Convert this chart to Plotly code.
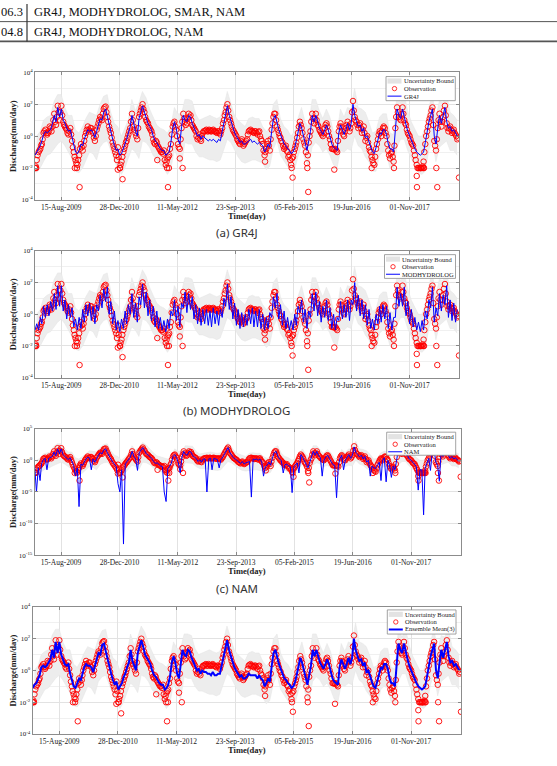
import numpy as np
import pandas as pd
import plotly.graph_objects as go

W, H = 557, 766

# ---------------- data (log10 of discharge, mm/day) ----------------
years = list(range(2009, 2019))
half_month_dates = [pd.Timestamp(y, m, d) for y in years for m in range(1, 13) for d in (1, 16)]
mid_month_dates = [pd.Timestamp(y, m, d) for y in years for m in range(1, 13) for d in (8, 23)]
month_dates = [pd.Timestamp(y, m, 15) for y in years for m in range(1, 13)]

# observations on the 1st and 16th of each month
obs_log10 = [
    -2.0,-1.5,-1.0,-0.8,-0.5,0.2,0.4,0.1,0.3,0.5,0.6,1.4,0.7,1.9,1.0,1.9,0.9,0.6,0.4,0.1,0.5,-0.3,-1.0,-1.5,
    -1.8,-1.2,-0.5,-0.9,-0.3,0.2,0.6,0.3,0.5,0.2,-0.3,0.4,0.8,1.2,1.0,1.7,1.85,1.2,0.6,0.2,-0.4,-0.8,-1.2,-0.7,
    -2.0,-1.6,-1.0,-0.6,-0.3,0.1,0.5,1.4,0.6,0.2,-0.2,1.2,1.6,2.0,1.5,1.0,0.8,0.5,0.3,-0.2,-0.5,-0.4,-0.7,-0.9,
    -1.0,-0.9,-1.8,-1.4,-1.2,-0.5,0.6,0.9,0.4,-0.5,-0.8,0.5,1.4,0.9,0.8,1.4,1.3,0.7,0.5,0.3,-0.2,0.1,-0.3,0.2,
    0.3,0.4,0.3,0.35,0.3,0.4,0.3,0.2,0.3,0.1,0.5,1.0,1.5,2.0,1.2,0.8,0.4,0.2,0.0,-0.3,-0.5,-0.2,-0.6,-0.4,
    -0.2,0.3,0.4,0.3,0.2,0.3,0.1,0.3,-0.2,-0.5,-1.2,-0.8,-0.3,-0.9,0.4,1.2,1.4,0.6,0.2,-0.1,-0.4,-0.8,-0.6,-1.0,
    -1.2,-1.8,-1.3,-0.8,-0.4,0.2,0.9,0.5,-0.2,-0.6,-1.7,-0.4,0.3,1.4,0.8,1.4,0.7,0.4,0.2,0.0,0.5,0.8,0.3,-0.2,
    -0.8,-0.8,-0.8,-1.0,0.3,0.8,0.3,0.0,0.5,0.9,0.3,0.8,2.2,1.2,0.9,0.5,0.8,0.2,0.6,-0.3,0.0,-0.7,-1.0,-1.5,
    -1.8,-0.8,-0.2,0.3,0.0,0.5,0.5,0.0,-0.9,-1.4,-1.0,-1.6,0.5,1.8,1.2,1.0,1.8,1.0,0.7,0.2,0.0,-0.4,-0.6,-1.2,
    -1.8,-2.0,-2.0,-2.0,-1.6,-0.5,0.3,0.9,1.3,1.8,-0.3,-0.9,0.5,1.4,0.6,1.2,1.9,0.8,0.3,0.6,0.2,0.4,0.1,-0.2,
]
# observations on the 8th and 23rd of each month
obs_mid_log10 = [
    -1.9,-1.2,-0.9,-0.6,-0.2,0.3,0.2,0.2,0.6,0.3,1.0,0.9,1.2,1.5,1.5,1.3,0.7,0.5,0.2,0.3,0.1,-0.7,-1.3,-1.7,
    -1.5,-0.8,-0.7,-0.6,0.0,0.4,0.4,0.5,0.3,-0.1,0.0,0.6,1.0,1.1,1.4,1.8,1.5,0.9,0.4,-0.1,-0.6,-1.0,-1.5,-1.3,
    -1.8,-1.3,-0.8,-0.4,-0.1,0.3,0.9,1.0,0.4,0.0,0.5,1.4,1.8,1.7,1.2,0.9,0.6,0.4,0.1,-0.4,-0.3,-0.6,-0.8,-1.0,
    -1.1,-1.5,-1.6,-1.3,-0.8,0.1,0.8,0.6,0.0,-0.7,-0.2,0.9,1.1,0.7,1.1,1.2,1.0,0.6,0.4,0.0,-0.1,-0.2,0.0,0.3,
    0.35,0.3,0.4,0.3,0.35,0.3,0.25,0.3,0.2,0.3,0.8,1.3,1.8,1.6,1.0,0.6,0.3,0.1,-0.2,-0.4,-0.3,-0.4,-0.5,-0.3,
    0.1,0.35,0.3,0.25,0.3,0.2,0.25,0.0,-0.3,-0.9,-1.0,-0.5,-0.6,-0.2,0.8,1.4,1.0,0.4,0.0,-0.3,-0.6,-0.7,-0.9,-1.3,
    -1.5,-1.4,-1.0,-0.6,-0.1,0.6,0.7,0.2,-0.4,-1.0,-1.2,0.0,0.9,1.1,1.1,1.0,0.6,0.3,0.1,0.2,0.7,0.6,0.0,-0.5,
    -0.8,-0.85,-0.9,-0.3,0.6,0.6,0.1,0.3,0.7,0.6,0.5,1.5,1.6,1.0,0.7,0.7,0.5,0.4,0.2,-0.1,-0.4,-0.9,-1.3,-1.7,
    -1.3,-0.5,0.1,0.2,0.3,0.6,0.2,-0.5,-1.2,-1.1,-1.3,-0.6,1.2,1.5,1.1,1.4,1.4,0.8,0.4,0.1,-0.2,-0.5,-0.9,-1.5,
    -2.0,-2.0,-2.0,-1.9,-1.0,0.0,0.6,1.1,1.6,0.7,-0.6,-0.2,1.0,0.9,0.9,1.6,1.3,0.5,0.5,0.4,0.3,0.2,0.0,-0.1,
]

obs_extra_dates = ["2009-01-04","2009-01-12","2009-12-10","2009-12-28","2010-01-20","2010-12-15",
                   "2011-01-04","2011-01-25","2011-11-20","2012-02-12","2012-02-20","2012-02-28",
                   "2012-06-01","2012-06-25","2014-06-05","2015-01-20","2015-01-28","2015-06-04",
                   "2015-06-12","2016-01-22","2016-12-09","2017-06-19","2018-01-01","2018-01-03",
                   "2018-02-04","2018-02-27","2018-03-05","2018-06-19","2018-06-27","2018-12-31"]
obs_extra_log10 = [-2.0,-2.0,-2.0,-2.0,-3.2,-2.1,
                   -2.0,-2.7,-1.5,-2.0,-3.2,-2.0,
                   -1.4,-2.0,-1.6,-2.0,-2.6,-2.0,
                   -3.5,-2.1,-2.0,-2.0,-2.5,-3.2,
                   -2.0,-2.0,-2.0,-2.0,-3.2,-2.6]

gr4j_log10 = [
    -1.2,-1.0,-0.8,-0.6,-0.3,0.1,0.3,0.2,0.3,0.4,0.8,1.3,0.9,1.8,1.2,1.7,1.0,0.8,0.5,0.3,0.4,-0.1,-0.6,-1.0,
    -1.1,-0.9,-0.5,-0.6,-0.2,0.1,0.4,0.3,0.4,0.2,-0.1,0.3,0.7,1.1,1.0,1.5,1.7,1.2,0.7,0.3,-0.2,-0.6,-0.9,-0.8,
    -1.2,-1.1,-0.8,-0.5,-0.2,0.2,0.6,1.3,0.7,0.3,0.0,1.1,1.5,1.9,1.5,1.1,0.8,0.6,0.4,0.0,-0.3,-0.4,-0.6,-0.8,
    -0.9,-0.9,-1.2,-1.1,-1.0,-0.4,0.5,0.9,0.5,-0.2,-0.5,0.6,1.3,1.0,0.9,1.3,1.2,0.8,0.5,0.3,0.0,0.1,-0.2,0.0,
    -0.1,-0.2,-0.3,-0.2,-0.3,-0.2,-0.3,-0.4,-0.2,-0.3,0.3,0.9,1.4,1.9,1.3,0.9,0.5,0.2,0.0,-0.2,-0.4,-0.3,-0.5,-0.5,
    -0.4,-0.3,-0.2,-0.4,-0.3,-0.4,-0.5,-0.4,-0.5,-0.6,-1.0,-0.8,-0.5,-0.7,0.3,1.1,1.3,0.8,0.4,0.1,-0.2,-0.5,-0.6,-0.8,
    -0.9,-1.1,-1.0,-0.7,-0.3,0.2,0.8,0.5,0.0,-0.4,-0.9,-0.3,0.3,1.3,0.9,1.3,0.8,0.5,0.3,0.1,0.4,0.7,0.4,0.0,
    -0.5,-0.7,-0.8,-0.9,0.2,0.7,0.4,0.1,0.4,0.8,0.4,0.8,2.0,1.3,0.9,0.6,0.7,0.3,0.5,-0.1,0.0,-0.4,-0.7,-1.0,
    -1.1,-0.7,-0.3,0.2,0.1,0.4,0.4,0.1,-0.5,-0.8,-0.8,-1.0,0.4,1.7,1.3,1.1,1.7,1.1,0.7,0.3,0.0,-0.3,-0.5,-0.8,
    -1.0,-1.1,-1.2,-1.1,-1.0,-0.4,0.3,0.9,1.3,1.7,0.0,-0.5,0.5,1.3,0.8,1.2,1.8,0.9,0.5,0.6,0.3,0.4,0.2,0.0,
]

modhydrolog_log10 = [
    -1.0,-0.6,-1.0,-0.2,-0.6,0.5,-0.2,0.6,-0.1,0.8,0.2,1.3,0.3,1.8,0.5,1.8,0.2,0.9,-0.3,0.6,-0.2,0.4,-0.8,-0.3,
    -1.0,-0.2,-0.9,0.3,-0.5,0.6,-0.1,0.7,-0.4,0.5,-0.6,0.6,0.2,1.2,0.4,1.6,0.8,1.7,0.0,0.8,-0.6,0.2,-1.0,-0.4,
    -1.1,-0.3,-0.9,0.2,-0.6,0.6,0.0,1.3,-0.2,0.7,-0.5,1.1,0.6,1.9,0.4,1.4,-0.1,0.9,-0.4,0.5,-0.8,0.2,-0.9,-0.2,
    -1.0,-0.4,-1.1,-0.3,-0.9,0.2,-0.1,0.9,-0.4,0.5,-0.8,0.7,0.4,1.4,0.1,1.3,0.3,1.1,-0.3,0.6,-0.6,0.4,-0.7,0.3,
    -0.6,0.3,-0.7,0.2,-0.8,0.4,-0.6,0.2,-0.7,0.3,-0.2,1.0,0.5,1.9,0.3,1.1,-0.3,0.7,-0.7,0.3,-0.9,0.1,-0.8,0.0,
    -0.7,0.3,-0.6,0.4,-0.8,0.2,-0.8,0.3,-0.9,0.0,-1.0,-0.2,-0.9,0.1,-0.2,1.1,0.4,1.3,-0.3,0.6,-0.7,0.2,-0.9,-0.2,
    -1.0,-0.4,-1.0,0.0,-0.7,0.5,0.1,0.9,-0.5,0.3,-0.9,0.2,-0.2,1.3,0.2,1.4,-0.1,0.8,-0.5,0.5,-0.2,0.9,-0.4,0.4,
    -0.9,0.0,-1.0,-0.2,-0.4,0.8,-0.3,0.6,-0.2,0.9,-0.4,0.9,0.6,2.0,0.2,1.2,-0.1,0.9,-0.3,0.6,-0.7,0.3,-0.9,-0.3,
    -1.0,0.0,-0.6,0.5,-0.5,0.6,-0.3,0.5,-0.9,0.1,-1.0,-0.2,-0.2,1.7,0.5,1.3,0.5,1.7,-0.1,0.8,-0.6,0.3,-0.8,-0.2,
    -1.0,-0.5,-1.1,-0.4,-1.0,0.2,-0.3,0.9,0.4,1.7,-0.5,0.4,-0.1,1.3,0.2,1.2,0.6,1.8,-0.2,0.9,-0.4,0.7,-0.5,0.3,
]

nam_log10 = [
    -1.0,-5.0,-1.2,-3.2,-0.5,0.1,0.3,-1.5,0.3,0.4,0.6,1.3,0.7,1.8,1.0,1.8,0.9,0.6,0.4,0.1,0.4,-0.3,-0.8,-2.5,
    -1.2,-7.3,-0.6,-0.8,-0.3,0.2,0.5,0.3,-1.5,0.2,-0.3,0.4,0.8,1.2,1.0,1.6,1.8,1.2,0.6,0.2,-0.3,-0.7,-1.0,-3.7,
    -5.0,-1.5,-13.2,-0.6,-0.3,0.1,0.5,1.4,0.6,0.2,-1.6,1.2,1.6,2.0,1.5,1.0,0.8,0.5,0.3,-0.2,-0.5,-0.4,-0.7,-0.9,
    -1.0,-5.0,-6.5,-1.3,-1.0,-0.5,0.6,0.9,0.4,-0.4,-2.0,0.5,1.4,0.9,0.8,1.4,1.3,0.7,0.5,0.3,-0.2,0.1,-0.3,0.2,
    0.2,-5.0,0.2,0.3,-1.5,0.3,0.2,0.1,-1.2,0.1,0.5,1.0,1.5,2.0,1.2,0.8,0.4,0.2,0.0,-0.3,-0.5,-0.2,-0.6,-0.4,
    -0.3,-0.2,-5.8,0.2,0.1,0.2,0.0,0.2,-0.3,-2.5,-1.0,-0.8,-0.3,-0.8,0.4,1.2,1.4,0.6,0.2,-0.1,-2.0,-0.7,-0.6,-0.9,
    -1.0,-5.1,-1.0,-0.7,-0.4,-2.0,0.9,0.5,-0.2,-0.6,-1.2,-0.4,0.3,1.4,0.8,1.4,0.7,0.4,-2.5,0.0,0.5,0.8,0.3,-0.2,
    -0.7,-0.8,-5.9,-0.9,0.3,0.8,-1.5,0.0,0.5,0.9,0.3,0.8,2.1,1.2,0.9,0.5,0.8,0.2,0.6,-0.3,0.0,-2.5,-0.9,-1.2,
    -1.3,-0.8,-0.3,-3.2,0.0,0.4,-3.4,0.0,-0.8,-2.7,-0.9,-1.5,0.5,1.8,1.2,1.0,1.8,1.0,0.7,0.2,0.0,-0.4,-0.6,-1.0,
    -4.7,-1.5,-1.5,-8.6,-1.3,-0.5,0.3,-1.6,1.3,1.8,-0.3,-0.8,-3.3,1.4,0.6,1.2,1.9,0.8,0.3,0.6,0.2,0.4,0.1,-0.2,
]

ensemble_log10 = [
    -1.1,-0.9,-0.8,-0.5,-0.3,0.2,0.3,0.2,0.3,0.5,0.7,1.3,0.8,1.8,1.1,1.8,1.0,0.7,0.4,0.3,0.4,-0.2,-0.6,-1.0,
    -1.1,-0.8,-0.5,-0.6,-0.2,0.2,0.4,0.3,0.3,0.2,-0.1,0.4,0.7,1.1,1.0,1.6,1.7,1.2,0.7,0.3,-0.2,-0.6,-0.9,-0.7,
    -1.2,-1.0,-0.8,-0.4,-0.2,0.2,0.5,1.3,0.6,0.3,0.0,1.1,1.5,1.9,1.5,1.0,0.8,0.6,0.4,0.0,-0.3,-0.4,-0.6,-0.8,
    -0.9,-0.9,-1.2,-1.1,-0.9,-0.4,0.5,0.9,0.5,-0.2,-0.5,0.6,1.3,1.0,0.9,1.3,1.2,0.8,0.5,0.3,0.0,0.1,-0.2,0.0,
    -0.1,-0.1,-0.2,-0.2,-0.3,-0.1,-0.3,-0.3,-0.2,-0.2,0.3,0.9,1.4,1.9,1.3,0.9,0.5,0.2,0.0,-0.2,-0.4,-0.3,-0.5,-0.5,
    -0.4,-0.2,-0.3,-0.3,-0.3,-0.3,-0.5,-0.3,-0.5,-0.6,-1.0,-0.8,-0.5,-0.7,0.3,1.1,1.3,0.8,0.4,0.1,-0.2,-0.5,-0.6,-0.8,
    -0.9,-1.1,-1.0,-0.7,-0.3,0.3,0.8,0.5,0.0,-0.4,-0.9,-0.3,0.3,1.3,0.9,1.3,0.8,0.5,0.3,0.1,0.4,0.7,0.4,0.0,
    -0.5,-0.7,-0.8,-0.9,0.2,0.7,0.4,0.1,0.4,0.8,0.4,0.8,2.0,1.3,0.9,0.6,0.7,0.3,0.5,-0.1,0.0,-0.4,-0.7,-1.0,
    -1.1,-0.7,-0.3,0.2,0.1,0.4,0.4,0.1,-0.5,-0.8,-0.8,-1.0,0.4,1.7,1.3,1.1,1.7,1.1,0.7,0.3,0.0,-0.3,-0.5,-0.8,
    -1.0,-1.1,-1.2,-1.1,-1.0,-0.4,0.3,0.9,1.3,1.7,0.0,-0.5,0.5,1.3,0.8,1.2,1.8,0.9,0.5,0.6,0.3,0.4,0.2,0.0,
]

band_hi_log10 = [
    0.0,0.3,1.0,1.2,1.3,2.2,2.6,2.6,1.8,1.3,1.3,0.4,
    0.2,0.6,1.1,1.5,1.4,1.3,2.0,2.5,2.6,1.5,0.8,0.6,
    0.0,0.5,1.0,2.3,1.6,2.1,2.8,2.4,1.7,1.2,0.7,0.5,
    0.4,0.2,0.6,1.8,1.4,1.4,2.3,2.3,2.2,1.4,1.0,1.1,
    1.2,1.3,1.2,1.1,1.2,1.9,2.8,2.1,1.3,1.0,0.8,0.6,
    1.1,1.2,1.1,1.1,0.6,0.3,0.5,2.0,2.3,1.1,0.6,0.4,
    0.0,0.3,1.1,1.8,0.9,0.6,2.3,2.3,1.6,1.1,1.7,1.2,
    0.3,0.2,1.7,1.2,1.8,1.7,3.0,1.8,1.7,1.5,0.9,0.2,
    0.3,1.2,1.4,1.4,0.2,0.1,2.6,2.1,2.6,1.6,0.9,0.5,
    0.0,0.0,0.6,1.8,2.6,1.2,2.2,2.1,2.7,1.5,1.3,1.0,
]
band_lo_log10 = [
    -2.3,-2.0,-1.6,-1.2,-1.1,-0.8,-0.5,-0.3,-0.6,-1.0,-1.4,-2.2,
    -2.3,-2.0,-1.5,-1.0,-1.1,-1.5,-0.7,-0.4,-0.3,-0.9,-1.6,-2.1,
    -2.4,-2.0,-1.4,-0.8,-1.0,-1.4,-0.3,-0.4,-0.7,-1.2,-1.5,-1.8,
    -2.0,-2.4,-2.1,-0.8,-1.4,-1.8,-0.4,-0.5,-0.5,-1.0,-1.3,-1.3,
    -1.4,-1.5,-1.5,-1.6,-1.5,-0.9,-0.2,-0.4,-0.9,-1.3,-1.6,-1.7,
    -1.6,-1.5,-1.5,-1.6,-1.7,-2.1,-1.9,-0.8,-0.3,-1.2,-1.6,-1.9,
    -2.2,-2.1,-1.3,-0.6,-1.5,-1.9,-0.7,-0.4,-0.6,-1.0,-0.8,-1.2,
    -1.8,-2.0,-0.9,-1.0,-0.8,-0.9,0.0,-0.6,-0.8,-1.3,-1.6,-2.2,
    -2.2,-1.2,-1.0,-1.1,-2.0,-2.2,-0.7,-0.2,-0.2,-0.9,-1.4,-1.9,
    -2.3,-2.4,-2.2,-0.9,-0.2,-1.6,-0.7,-0.5,-0.3,-0.9,-0.9,-1.2,
]

x_tick_dates = ["2009-08-15", "2010-12-28", "2012-05-11", "2013-09-23",
                "2015-02-05", "2016-06-19", "2017-11-01"]
x_tick_text = ["15-Aug-2009", "28-Dec-2010", "11-May-2012", "23-Sep-2013",
               "05-Feb-2015", "19-Jun-2016", "01-Nov-2017"]

table_left = ["06.3", "04.8"]
table_right = ["GR4J, MODHYDROLOG, SMAR, NAM", "GR4J, MODHYDROLOG, NAM"]

# ---------------- layout helpers ----------------
def px(x):
    return x / W

def py(y):
    return 1 - y / H

SERIF = "Liberation Serif, Times New Roman, serif"

panels = [
    dict(model=gr4j_log10, label="GR4J", lw=1.0, box=(35, 69, 459, 198),
         yt=[-4, -2, 0, 2, 4], ym=[-3, -1, 1, 3], cap="(a) GR4J", cap_y=231,
         leg=(386, 73.3, 455.3, 97.7)),
    dict(model=modhydrolog_log10, label="MODHYDROLOG", lw=1.0, box=(35, 249.3, 459, 377.7),
         yt=[-4, -2, 0, 2, 4], ym=[-3, -1, 1, 3], cap="(b) MODHYDROLOG", cap_y=411,
         leg=(384.5, 253.3, 455.5, 277.3)),
    dict(model=nam_log10, label="NAM", lw=1.0, box=(34.7, 429, 460.7, 557.3),
         yt=[-15, -10, -5, 0, 5], ym=[], cap="(c) NAM", cap_y=591,
         leg=(386.7, 432.7, 455.7, 456)),
    dict(model=ensemble_log10, label="Ensemble Mean(3)", lw=2.0, box=(32.7, 609.3, 461, 737.7),
         yt=[-4, -2, 0, 2, 4], ym=[-3, -1, 1, 3], cap=None, cap_y=None,
         leg=(387.3, 612.3, 456, 636.7)),
]

fig = go.Figure()
shapes = []
annotations = []

hi_vals = np.power(10.0, band_hi_log10)
lo_vals = np.power(10.0, band_lo_log10)
obs_x = half_month_dates + mid_month_dates + [pd.Timestamp(d) for d in obs_extra_dates]
obs_y = list(np.power(10.0, obs_log10)) + list(np.power(10.0, obs_mid_log10)) + \
    list(np.power(10.0, obs_extra_log10))

layout_axes = {}
for i, p in enumerate(panels):
    n = "" if i == 0 else str(i + 1)
    xa, ya = "x" + n, "y" + n
    x0, y0, x1, y1 = p["box"]
    # uncertainty band
    fig.add_trace(go.Scatter(x=month_dates, y=lo_vals, mode="lines",
                             line=dict(color="#e4e4e4", width=0.5),
                             xaxis=xa, yaxis=ya, showlegend=False, hoverinfo="skip"))
    fig.add_trace(go.Scatter(x=month_dates, y=hi_vals, mode="lines", fill="tonexty",
                             fillcolor="#ededed",
                             line=dict(color="#e4e4e4", width=0.5),
                             xaxis=xa, yaxis=ya, showlegend=False, hoverinfo="skip"))
    # observations
    fig.add_trace(go.Scatter(x=obs_x, y=obs_y, mode="markers",
                             marker=dict(symbol="circle-open", color="#ff0000", size=5.5,
                                         line=dict(width=0.9, color="#ff0000")),
                             xaxis=xa, yaxis=ya, showlegend=False))
    # model
    fig.add_trace(go.Scatter(x=half_month_dates, y=np.power(10.0, p["model"]), mode="lines",
                             line=dict(color="#0000ff", width=p["lw"]),
                             xaxis=xa, yaxis=ya, showlegend=False))

    xkey = "xaxis" + n
    ykey = "yaxis" + n
    layout_axes[xkey] = dict(
        domain=[px(x0), px(x1)], anchor=ya, type="date",
        range=["2009-01-01", "2018-12-31"],
        tickmode="array", tickvals=x_tick_dates, ticktext=x_tick_text,
        tickfont=dict(family=SERIF, size=7.5, color="#222"),
        ticks="inside", ticklen=3, tickcolor="#888",
        showline=True, linecolor="#8c8c8c", linewidth=1, mirror="ticks",
        showgrid=True, gridcolor="#e2e2e2", gridwidth=1, zeroline=False,
    )
    layout_axes[ykey] = dict(
        domain=[py(y1), py(y0)], anchor=xa, type="log",
        range=[p["yt"][0], p["yt"][-1]],
        tickmode="array", tickvals=[10.0 ** v for v in p["yt"]],
        ticktext=["10<sup>%d</sup>" % v for v in p["yt"]],
        tickfont=dict(family=SERIF, size=7, color="#222"),
        ticks="inside", ticklen=3, tickcolor="#888",
        showline=True, linecolor="#8c8c8c", linewidth=1, mirror="ticks",
        showgrid=True, gridcolor="#e2e2e2", gridwidth=1, zeroline=False,
        minor=dict(tickmode="array", tickvals=[10.0 ** v for v in p["ym"]],
                   showgrid=True, gridcolor="#f0f0f0", ticks=""),
    )

    # axis titles
    annotations.append(dict(x=px(13), y=py((y0 + y1) / 2), xref="paper", yref="paper",
                            text="<b>Discharge(mm/day)</b>", textangle=-90, showarrow=False,
                            font=dict(family=SERIF, size=8.5, color="#222"),
                            xanchor="center", yanchor="middle"))
    annotations.append(dict(x=px(247), y=py(y1 + 16), xref="paper", yref="paper",
                            text="<b>Time(day)</b>", showarrow=False,
                            font=dict(family=SERIF, size=8.5, color="#222"),
                            xanchor="center", yanchor="middle"))
    if p["cap"]:
        annotations.append(dict(x=px(236.5), y=py(p["cap_y"]), xref="paper", yref="paper",
                                text=p["cap"], showarrow=False,
                                font=dict(family="Noto Sans", size=11.5, color="#333"),
                                xanchor="center", yanchor="middle"))

    # legend box (drawn)
    lx0, ly0, lx1, ly1 = p["leg"]
    shapes.append(dict(type="rect", xref="paper", yref="paper",
                       x0=px(lx0), x1=px(lx1), y0=py(ly0), y1=py(ly1),
                       line=dict(color="#8c8c8c", width=0.8), fillcolor="white", layer="above"))
    rows = [ly0 + 4.5, ly0 + 12.2, ly0 + 19.8]
    shapes.append(dict(type="rect", xref="paper", yref="paper",
                       x0=px(lx0 + 1.5), x1=px(lx0 + 15.5), y0=py(rows[0] + 2.6), y1=py(rows[0] - 2.6),
                       line=dict(width=0), fillcolor="#e3e3e3", layer="above"))
    shapes.append(dict(type="circle", xref="paper", yref="paper",
                       x0=px(lx0 + 6.3), x1=px(lx0 + 10.7), y0=py(rows[1] + 2.2), y1=py(rows[1] - 2.2),
                       line=dict(color="#ff0000", width=0.8), layer="above"))
    shapes.append(dict(type="line", xref="paper", yref="paper",
                       x0=px(lx0 + 1.5), x1=px(lx0 + 15.5), y0=py(rows[2]), y1=py(rows[2]),
                       line=dict(color="#0000ff", width=p["lw"]), layer="above"))
    for txt, ry in zip(["Uncertainty Bound", "Observation", p["label"]], rows):
        annotations.append(dict(x=px(lx0 + 16.5), y=py(ry), xref="paper", yref="paper",
                                text=txt, showarrow=False, borderpad=0,
                                font=dict(family=SERIF, size=6.5, color="#222"),
                                xanchor="left", yanchor="middle"))

# table at the top of the page
row_y = [8, 28.5]
for lt, rt, ry in zip(table_left, table_right, row_y):
    annotations.append(dict(x=0, y=py(ry), xref="paper", yref="paper", text=lt, showarrow=False,
                            font=dict(family=SERIF, size=12.5, color="#111"),
                            xanchor="left", yanchor="middle", borderpad=0))
    annotations.append(dict(x=px(32.5), y=py(ry), xref="paper", yref="paper", text=rt, showarrow=False,
                            font=dict(family=SERIF, size=12.5, color="#111"),
                            xanchor="left", yanchor="middle", borderpad=0))
shapes.append(dict(type="line", xref="paper", yref="paper", x0=0, x1=1, y0=py(17.8), y1=py(17.8),
                   line=dict(color="#555", width=1)))
shapes.append(dict(type="line", xref="paper", yref="paper", x0=0, x1=1, y0=py(37.8), y1=py(37.8),
                   line=dict(color="#555", width=1.8)))
shapes.append(dict(type="line", xref="paper", yref="paper", x0=px(27), x1=px(27), y0=py(0), y1=py(38),
                   line=dict(color="#333", width=1.2)))

fig.update_layout(
    width=W, height=H, margin=dict(l=0, r=0, t=0, b=0),
    paper_bgcolor="white", plot_bgcolor="white",
    showlegend=False, shapes=shapes, annotations=annotations,
    **layout_axes,
)

fig.write_html("out.html")
